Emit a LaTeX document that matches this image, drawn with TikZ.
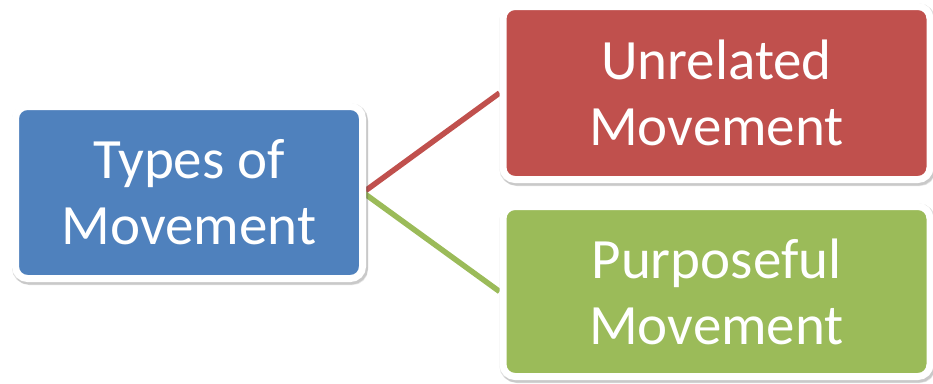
\documentclass[tikz,border=0pt]{standalone}
\usepackage{fontspec}
\setmainfont{Carlito}
\usetikzlibrary{shadows,backgrounds}
\definecolor{cblue}{HTML}{4F81BD}
\definecolor{cred}{HTML}{C0504D}
\definecolor{cgreen}{HTML}{9BBB59}
\begin{document}
\begin{tikzpicture}[x=1pt,y=-1pt,
  box/.style={draw=white, line width=7pt, rounded corners=12pt, inner sep=0pt,
    text=white, align=center, font=\fontsize{57}{66}\selectfont,
    drop shadow={shadow xshift=1pt, shadow yshift=-1.5pt, opacity=0.18, fill=black!70, draw=black!70, line width=9pt},
    drop shadow={shadow xshift=2pt, shadow yshift=-3pt, opacity=0.15, fill=black!70, draw=black!70, line width=7pt}},
  link/.style={line width=5.5pt}]
\useasboundingbox (0,0) rectangle (933,383);
\node[box, fill=cblue, minimum width=347pt, minimum height=172pt] (t) at (189,192.5) {Types of\\Movement};
\node[box, fill=cred, minimum width=427pt, minimum height=173pt] (u) at (716.5,93) {Unrelated\\Movement};
\node[box, fill=cgreen, minimum width=427pt, minimum height=170pt] (p) at (716.5,291.5) {Purposeful\\Movement};
\begin{scope}[on background layer]
\draw[link, cred] ([xshift=-3pt]t.east) -- (u.west);
\draw[link, cgreen] ([xshift=-3pt]t.east) -- (p.west);
\end{scope}
\end{tikzpicture}
\end{document}
